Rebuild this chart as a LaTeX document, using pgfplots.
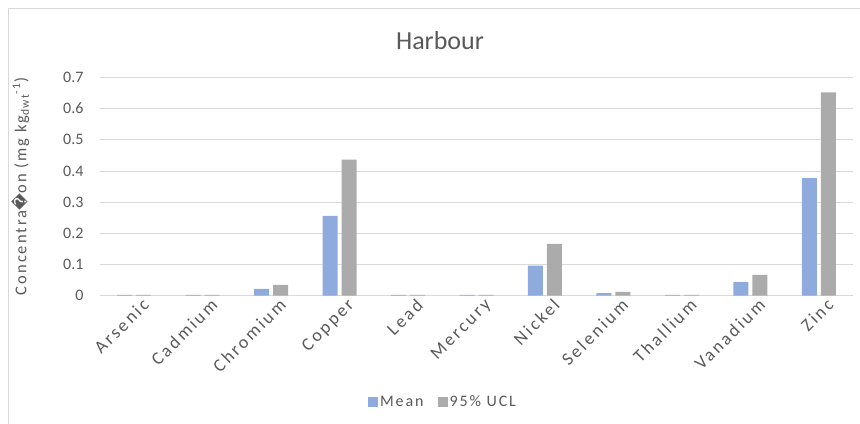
\documentclass[border=0pt]{standalone}
\usepackage{pgfplots}
\pgfplotsset{compat=1.18}
\usepackage{fontspec}
\setmainfont{Carlito}
\newfontfamily\spaced[LetterSpace=12]{Carlito}
\newfontfamily\wide[LetterSpace=14]{Carlito}
\newfontfamily\dejavu{DejaVu Sans}
\definecolor{meanblue}{HTML}{8FAADC}
\definecolor{uclgray}{HTML}{ABABAB}
\definecolor{gridgray}{HTML}{D9D9D9}
\definecolor{txtgray}{HTML}{595959}
\begin{document}
\begin{tikzpicture}
\useasboundingbox (0,0) rectangle (860bp,-424bp);
\draw[gridgray, line width=0.8bp] (8bp,-424bp) -- (8bp,-8bp) -- (860bp,-8bp);
\node[txtgray, font=\fontsize{26bp}{30bp}\selectfont] at (440bp,-41bp) {Harbour};
\begin{axis}[
  at={(100bp,-295.5bp)}, anchor=south west,
  scale only axis,
  width=753bp, height=218bp,
  xmin=-0.5, xmax=10.5,
  ymin=0, ymax=0.7,
  ytick={0,0.1,0.2,0.3,0.4,0.5,0.6,0.7},
  yticklabels={0,0.1,0.2,0.3,0.4,0.5,0.6,0.7},
  xtick={0,1,2,3,4,5,6,7,8,9,10},
  xticklabels={Arsenic,Cadmium,Chromium,Copper,Lead,Mercury,Nickel,Selenium,Thallium,Vanadium,Zinc},
  ybar=4bp, bar width=15bp,
  ymajorgrids, grid style={gridgray, line width=0.8bp},
  axis line style={draw=none},
  major tick length=0pt,
  /pgf/number format/assume math mode=true,
  tick label style={txtgray, font=\fontsize{16bp}{18bp}\selectfont},
  yticklabel style={xshift=-13bp},
  xticklabel style={rotate=45, anchor=north east, xshift=7bp, yshift=-3bp, font=\wide\fontsize{18bp}{18bp}\selectfont},
  ylabel={Concentra{\dejavu\char"FFFD}on (mg kg\textsubscript{dwt}\textsuperscript{-1})},
  ylabel style={at={(axis description cs:-0.106,0.5)}, anchor=center, txtgray, font=\spaced\fontsize{16.5bp}{18bp}\selectfont},
  legend style={at={(axis description cs:0.4555,-0.4885)}, anchor=center, draw=none, legend columns=2,
    font=\spaced\fontsize{16bp}{18bp}\selectfont, text=txtgray,
    /tikz/every even column/.append style={column sep=12bp}},
  legend image code/.code={\fill[#1] (0bp,-5bp) rectangle (10bp,5bp);},
]
\addplot[fill=meanblue, draw=none] coordinates {
(0,0.002) (1,0.002) (2,0.021) (3,0.256) (4,0.002) (5,0.002) (6,0.096) (7,0.008) (8,0.002) (9,0.043) (10,0.377)};
\addplot[fill=uclgray, draw=none] coordinates {
(0,0.002) (1,0.002) (2,0.034) (3,0.436) (4,0.002) (5,0.002) (6,0.166) (7,0.012) (8,0.002) (9,0.066) (10,0.652)};
\legend{Mean,95\% UCL}
\end{axis}
\end{tikzpicture}
\end{document}
